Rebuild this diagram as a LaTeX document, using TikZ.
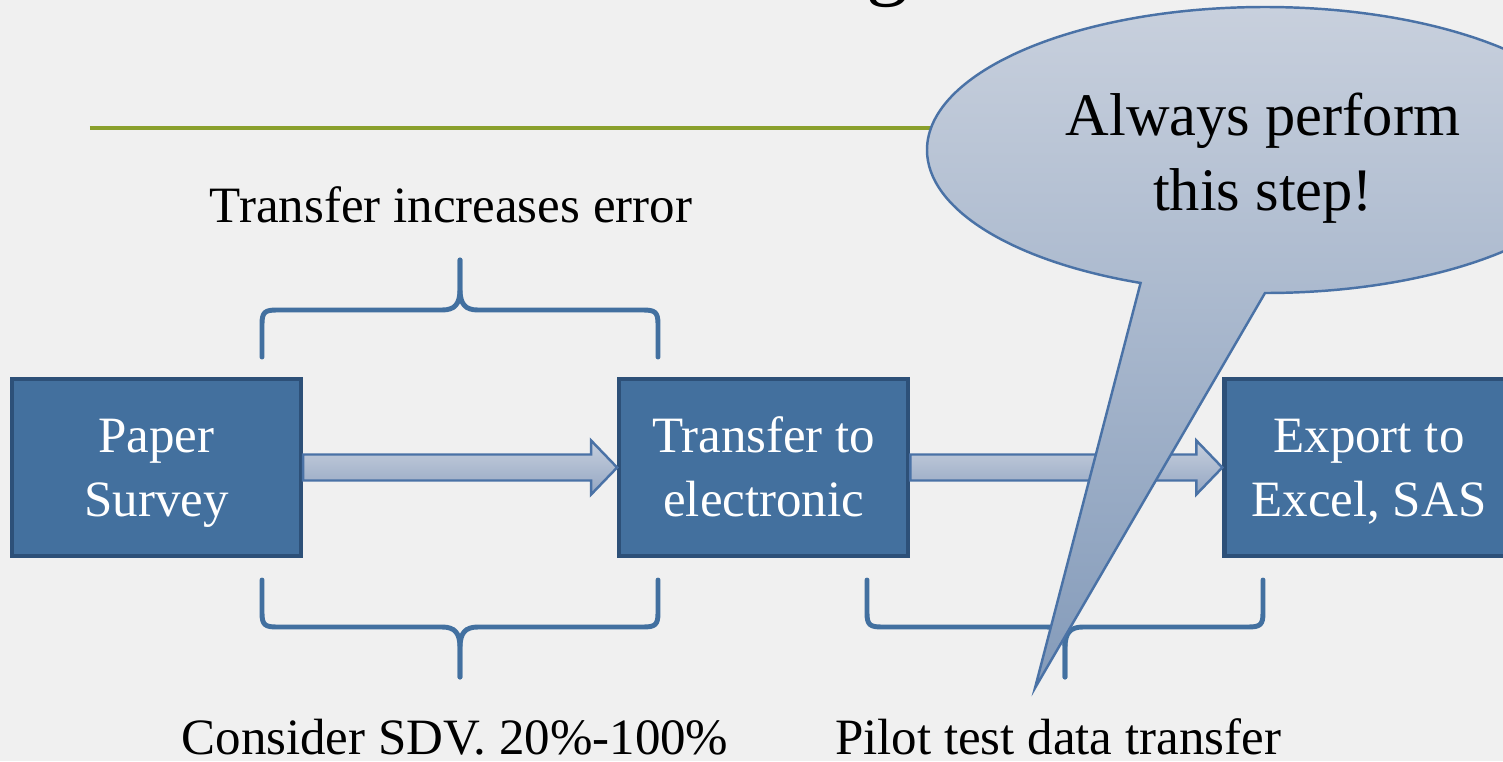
\documentclass[tikz,border=0pt]{standalone}
\usepackage{fontspec}
\setmainfont{Liberation Serif}
\usetikzlibrary{positioning,calc}
\definecolor{slidebg}{RGB}{240,240,240}
\definecolor{stepblue}{RGB}{67,112,158}
\definecolor{stepedge}{RGB}{45,80,120}
\definecolor{bracecol}{RGB}{66,112,160}
\definecolor{arrowtop}{RGB}{199,208,222}
\definecolor{arrowbot}{RGB}{148,166,194}
\definecolor{arrowedge}{RGB}{74,114,166}
\definecolor{notetop}{RGB}{200,208,221}
\definecolor{notebot}{RGB}{132,155,186}
\definecolor{ruleolive}{RGB}{138,160,44}

% curly brace, #1 = left end, #2 = 1 (tip up) or -1 (tip down)
\newcommand{\flowbrace}[2]{%
  \begin{scope}[shift={(#1)}, yscale=#2]
    \draw[bracel] (0,0) -- (0,0.33) .. controls (0,0.45) and (0.03,0.47) .. (0.15,0.47)
      -- (1.80,0.47) .. controls (1.93,0.47) and (1.98,0.53) .. (1.98,0.68) -- (1.98,0.97);
    \draw[bracel] (3.96,0) -- (3.96,0.33) .. controls (3.96,0.45) and (3.93,0.47) .. (3.81,0.47)
      -- (2.16,0.47) .. controls (2.03,0.47) and (1.98,0.53) .. (1.98,0.68) -- (1.98,0.97);
  \end{scope}}

\begin{document}
\begin{tikzpicture}[
    stepbox/.style={rectangle, draw=stepedge, line width=1.2pt, fill=stepblue,
                    minimum width=2.89cm, minimum height=1.77cm, align=center,
                    text height=27.6pt, text depth=0pt,
                    text=white, font=\fontsize{14.5}{18.2}\selectfont},
    flowarr/.style={draw=arrowedge, line width=0.7pt, top color=arrowtop, bottom color=arrowbot},
    bracel/.style={draw=bracecol, line width=1.4pt, line cap=round, line join=round},
    lbl/.style={font=\fontsize{14.5}{18}\selectfont, anchor=base},
    callout/.style={draw=arrowedge, line width=0.7pt, top color=notetop, bottom color=notebot}
  ]
    \useasboundingbox (0,0) rectangle (15.03,7.61);
    \clip (0,0) rectangle (15.03,7.61);
    \fill[slidebg] (0,0) rectangle (15.03,7.61);

    % Title remnant and rule
    \node[font=\fontsize{24}{24}\selectfont, anchor=base] (title) at (8.88,7.72) {g};
    \draw[ruleolive, line width=1pt] (0.90,6.33) -- (9.40,6.33);

    % Braces
    \flowbrace{2.62,4.04}{1}
    \flowbrace{2.62,1.81}{-1}
    \flowbrace{8.67,1.81}{-1}

    % Steps
    \node[stepbox] (paper) at (1.565,2.935) {Paper\\Survey};
    \node[stepbox, right=3.14cm of paper] (transfer) {Transfer to\\electronic};
    \node[stepbox, right=3.12cm of transfer] (export) {Export to\\Excel, SAS};

    \draw[flowarr] ($(paper.east)+(0,0.13)$) -- ($(transfer.west)+(-0.26,0.13)$) -- ++(0,0.14)
      -- (transfer.west) -- ($(transfer.west)+(-0.26,-0.27)$) -- ++(0,0.14)
      -- ($(paper.east)+(0,-0.13)$) -- cycle;
    \draw[flowarr] ($(transfer.east)+(0,0.13)$) -- ($(export.west)+(-0.26,0.13)$) -- ++(0,0.14)
      -- (export.west) -- ($(export.west)+(-0.26,-0.27)$) -- ++(0,0.14)
      -- ($(transfer.east)+(0,-0.13)$) -- cycle;

    % Labels
    \node[lbl] (increase) at (4.51,5.39) {Transfer increases error};
    \node[lbl] (sdv) at (4.55,0.07) {Consider SDV. 20\%-100\%};
    \node[lbl] (pilot) at (10.58,0.07) {Pilot test data transfer};

    % Callout
    \coordinate (notec) at (12.65,6.11);
    \coordinate (notept) at (10.35,0.73);
    \draw[callout] (notept) -- ($(notec)+(0,-1.43)$)
      arc[start angle=270, end angle=608.4, x radius=3.38, y radius=1.43] -- cycle;
    \node[font=\fontsize{17.2}{21.5}\selectfont, align=center] (note) at (12.63,6.03)
      {Always perform\\this step!};
\end{tikzpicture}
\end{document}
